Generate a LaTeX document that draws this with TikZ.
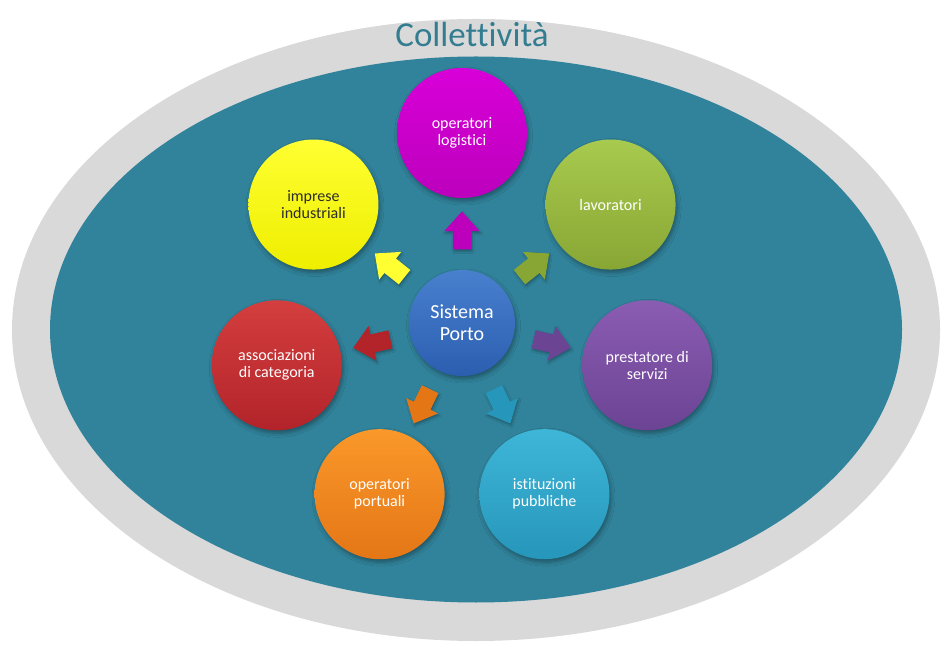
\documentclass[tikz,border=0pt]{standalone}
\usepackage{fontspec}
\setmainfont{Carlito}[Ligatures=NoCommon]
\usetikzlibrary{shapes.arrows,shadows.blur,calc}
\definecolor{grayring}{RGB}{217,217,217}
\definecolor{tealbg}{RGB}{49,131,155}
\definecolor{titlecol}{RGB}{52,125,145}
\definecolor{magT}{RGB}{216,0,216}\definecolor{magB}{RGB}{188,0,188}
\definecolor{yelT}{RGB}{255,255,50}\definecolor{yelB}{RGB}{238,238,0}
\definecolor{grnT}{RGB}{168,202,78}\definecolor{grnB}{RGB}{136,166,52}
\definecolor{redT}{RGB}{212,62,62}\definecolor{redB}{RGB}{178,36,42}
\definecolor{purT}{RGB}{138,92,178}\definecolor{purB}{RGB}{108,68,148}
\definecolor{oraT}{RGB}{250,152,42}\definecolor{oraB}{RGB}{228,118,22}
\definecolor{cyaT}{RGB}{62,182,216}\definecolor{cyaB}{RGB}{38,150,186}
\definecolor{bluT}{RGB}{72,128,206}\definecolor{bluB}{RGB}{44,94,176}
\begin{document}
\begin{tikzpicture}[x=1pt,y=1pt,
  bubble/.style={circle, minimum size=130pt, inner sep=0pt, align=center,
    font=\fontsize{16}{17}\selectfont, text=white,
    blur shadow={shadow xshift=1.5pt, shadow yshift=-3pt, shadow blur radius=4pt, shadow opacity=35}},
  blk/.style={single arrow, minimum height=38pt, minimum width=0pt,
    inner xsep=0pt, inner ysep=9pt,
    single arrow head extend=8.5pt, single arrow tip angle=84,
    sloped, allow upside down, pos=0.46,
    blur shadow={shadow xshift=1pt, shadow yshift=-2pt, shadow blur radius=2pt, shadow opacity=30}}
]
\useasboundingbox (0,0) rectangle (944,648);
\fill[white] (0,0) rectangle (944,648);
\fill[grayring] (476,318) ellipse [x radius=464, y radius=311];
\fill[tealbg] (476,318.5) ellipse [x radius=426, y radius=273];
\node[text=titlecol, font=\fontsize{35}{38}\selectfont] (title) at (472,614) {Collettività};

\coordinate (c) at (462,325);
\node[bubble, minimum size=106pt, font=\fontsize{20}{22}\selectfont, top color=bluT, bottom color=bluB] (porto) at (c) {Sistema\\Porto};
\node[bubble, top color=magT, bottom color=magB] (log) at ($(c)+(90:190)$) {operatori\\logistici};
\node[bubble, top color=yelT, bottom color=yelB, text={rgb,255:red,45;green,45;blue,45}] (imp) at ($(c)+(141.43:190)$) {imprese\\industriali};
\node[bubble, top color=redT, bottom color=redB] (ass) at ($(c)+(192.86:190)$) {associazioni\\di categoria};
\node[bubble, top color=oraT, bottom color=oraB] (por) at ($(c)+(244.29:190)$) {operatori\\portuali};
\node[bubble, top color=cyaT, bottom color=cyaB] (ist) at ($(c)+(295.71:190)$) {istituzioni\\pubbliche};
\node[bubble, top color=purT, bottom color=purB] (pre) at ($(c)+(347.14:190)$) {prestatore di\\servizi};
\node[bubble, top color=grnT, bottom color=grnB] (lav) at ($(c)+(38.57:190)$) {lavoratori};

\path (c) -- (log.center) node[blk, fill=magB] (a1) {};
\path (c) -- (imp.center) node[blk, fill=yelT] (a2) {};
\path (c) -- (ass.center) node[blk, fill=redB] (a3) {};
\path (c) -- (por.center) node[blk, fill=oraB] (a4) {};
\path (c) -- (ist.center) node[blk, fill=cyaB] (a5) {};
\path (c) -- (pre.center) node[blk, fill=purB] (a6) {};
\path (c) -- (lav.center) node[blk, fill=grnB] (a7) {};
\end{tikzpicture}
\end{document}
